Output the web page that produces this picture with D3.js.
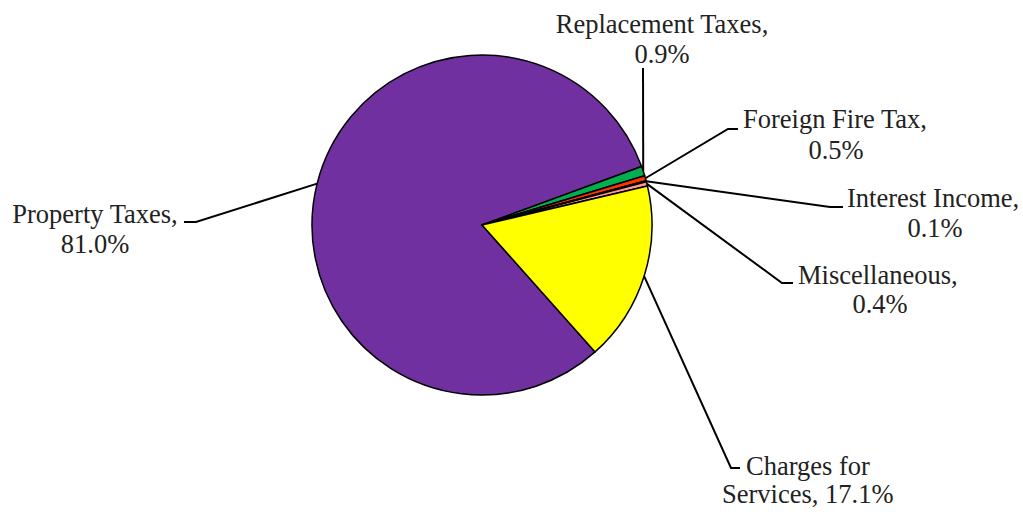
<!DOCTYPE html>
<html><head><meta charset="utf-8">
<script src="https://cdn.jsdelivr.net/npm/d3@7"></script>
<style>body{margin:0;background:#fff}</style>
</head><body>
<svg id="c" width="1023" height="512"></svg>
<script>
const categories = ["Property Taxes","Replacement Taxes","Foreign Fire Tax","Interest Income","Miscellaneous","Charges for Services"];
const values = [81.0, 0.9, 0.5, 0.1, 0.4, 17.1];
const labelLines = [["Property Taxes,","81.0%"],["Replacement Taxes,","0.9%"],["Foreign Fire Tax,","0.5%"],["Interest Income,","0.1%"],["Miscellaneous,","0.4%"],["Charges for","Services, 17.1%"]];
const colors = ["#7030A0","#00B050","#FF3300","#404040","#FF9999","#FFFF00"];

// label layout: leader elbow points, text line positions [x, y, anchor]
const layout = [
  {pts:[[196,222],[184,222]], t:[[95,223,"middle"],[95,253,"middle"]]},
  {pts:[[643,68]],            t:[[662,33,"middle"],[662,63,"middle"]]},
  {pts:[[728,129],[738,129]], t:[[743,128,"start"],[836,159,"middle"]]},
  {pts:[[830,207],[843,207]], t:[[847,207,"start"],[935,237,"middle"]]},
  {pts:[[782,283],[793,283]], t:[[798,284,"start"],[880,313,"middle"]]},
  {pts:[[731,468],[740,468]], t:[[746,475,"start"],[722,503,"start"]]}
];

const svg = d3.select("#c");
const cx = 482, cy = 225, r = 170;
const g = svg.append("g").attr("transform",`translate(${cx},${cy})`);
const start = 138.3*Math.PI/180;
const pie = d3.pie().sort(null).value(d=>d).startAngle(start).endAngle(start+2*Math.PI);
const arcs = pie(values);
const arc = d3.arc().innerRadius(0).outerRadius(r);

g.selectAll("path.s").data(arcs).join("path").attr("class","s")
  .attr("d",arc).attr("fill",(d,i)=>colors[i])
  .attr("stroke","#000").attr("stroke-width",1.5).attr("stroke-linejoin","round");

arcs.forEach((d,i)=>{
  const a = (d.startAngle+d.endAngle)/2;
  const p0 = [cx + r*Math.sin(a), cy - r*Math.cos(a)];
  const pts = [p0].concat(layout[i].pts);
  svg.append("path").attr("d", d3.line()(pts)).attr("fill","none")
    .attr("stroke","#000").attr("stroke-width",2);
  labelLines[i].forEach((t,j)=>{
    const [x,y,anc] = layout[i].t[j];
    svg.append("text").attr("x",x).attr("y",y).attr("text-anchor",anc)
      .attr("font-family","'Liberation Serif','Times New Roman',serif").attr("font-size",26.5)
      .attr("fill","#222").text(t);
  });
});
</script>
</body></html>
